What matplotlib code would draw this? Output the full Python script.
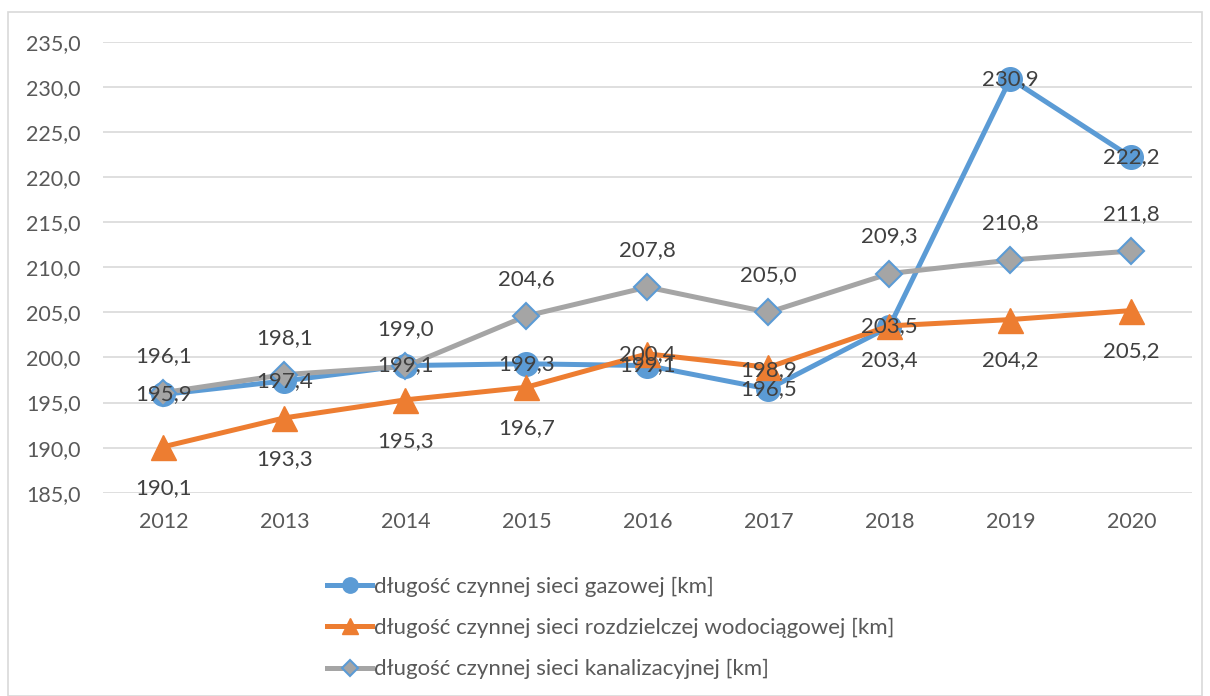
import matplotlib.pyplot as plt

plt.rcParams['font.family'] = ['Lato', 'DejaVu Sans']

# data
years = ['2012', '2013', '2014', '2015', '2016', '2017', '2018', '2019', '2020']
gas = [195.9, 197.4, 199.1, 199.3, 199.1, 196.5, 203.4, 230.9, 222.2]
water = [190.1, 193.3, 195.3, 196.7, 200.4, 198.9, 203.5, 204.2, 205.2]
sewer = [196.1, 198.1, 199.0, 204.6, 207.8, 205.0, 209.3, 210.8, 211.8]

names = ['długość czynnej sieci gazowej [km]',
         'długość czynnej sieci rozdzielczej wodociągowej [km]',
         'długość czynnej sieci kanalizacyjnej [km]']

# label offsets in pixels (vertical)
gas_off = [0, 0, 0, 0, 0, 0, -33, 0, 0]
water_off = [-41, -41, -41, -41, 0, -3, 0, -41, -41]
sewer_off = [37, 37, 37, 37, 37, 37, 37, 37, 37]

blue, orange, gray = '#5B9BD5', '#ED7D31', '#A5A5A5'

fig = plt.figure(figsize=(12.1, 6.96), dpi=100)
ax = fig.add_axes([0.085, 0.292, 0.9, 0.648])

x = range(len(years))
ax.plot(x, gas, color=blue, lw=3.6, marker='o', ms=17, mfc=blue, mec=blue,
        label=names[0], zorder=3)
ax.plot(x, water, color=orange, lw=3.6, marker='^', ms=18, mfc=orange, mec=orange,
        label=names[1], zorder=4)
ax.plot(x, sewer, color=gray, lw=3.6, marker='D', ms=13, mfc=gray, mec=blue, mew=1.5,
        label=names[2], zorder=5)

for vals, offs in [(gas, gas_off), (water, water_off), (sewer, sewer_off)]:
    for i, (v, o) in enumerate(zip(vals, offs)):
        ax.annotate(f'{v:.1f}'.replace('.', ','), (i, v), xytext=(0, o),
                    textcoords='offset pixels', ha='center', va='center',
                    fontsize=16, color='#404040', zorder=6)

ax.set_xlim(-0.5, len(years) - 0.5)
ax.set_ylim(185, 235)
ax.set_yticks(range(185, 236, 5))
ax.set_yticklabels([f'{t},0' for t in range(185, 236, 5)])
ax.set_xticks(list(x))
ax.set_xticklabels(years)
ax.tick_params(length=0, labelsize=15.5, labelcolor='#595959', pad=14)
ax.tick_params(axis='y', pad=16)
ax.grid(axis='y', color='#D9D9D9', lw=1.2)
ax.set_axisbelow(True)
for s in ax.spines.values():
    s.set_visible(False)

fig.legend(loc='upper left', bbox_to_anchor=(0.254, 0.2), frameon=False,
           fontsize=16, labelcolor='#595959', markerscale=0.65,
           handlelength=2.0, handletextpad=0.1, labelspacing=0.95)

fig.patches.append(plt.Rectangle((0.007, 0.0), 0.986, 0.983, transform=fig.transFigure,
                                 fill=False, edgecolor='#D9D9D9', lw=1.2))

fig.savefig('out.png', dpi=100)
